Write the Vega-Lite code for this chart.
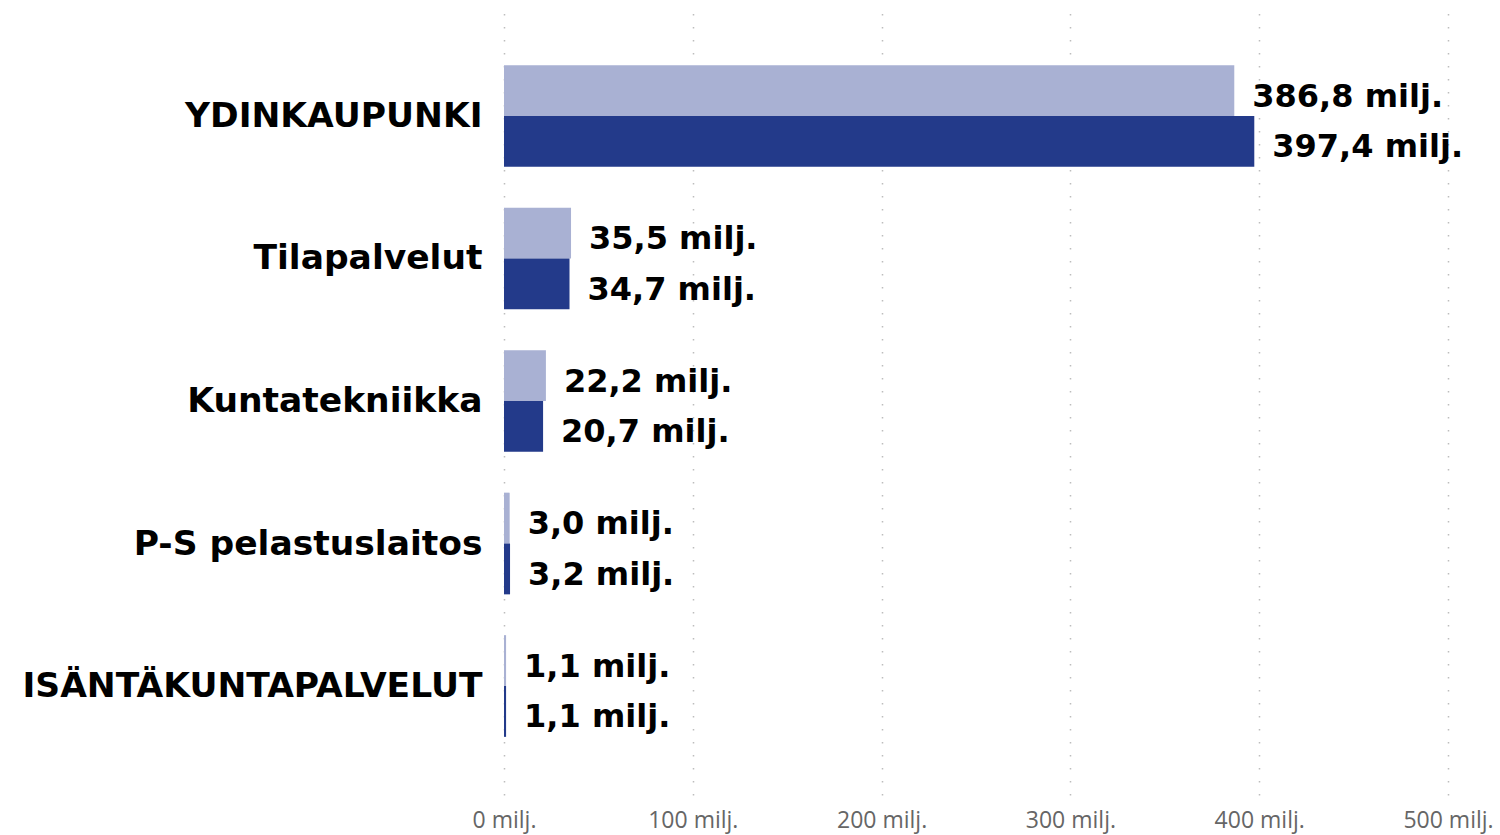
{
  "$schema": "https://vega.github.io/schema/vega-lite/v6.json",
  "autosize": {"type": "none"},
  "padding": {"left": 504, "top": 7, "right": 52, "bottom": 40},
  "width": 944,
  "height": 788,
  "background": "white",
  "config": {
    "view": {"stroke": null},
    "locale": {
      "number": {"decimal": ",", "thousands": " ", "grouping": [3], "currency": ["", " milj."]}
    }
  },
  "data": {
    "values": [
      {"kategoria": "YDINKAUPUNKI", "sarja": "2022", "arvo": 386.8},
      {"kategoria": "YDINKAUPUNKI", "sarja": "2023", "arvo": 397.4},
      {"kategoria": "Tilapalvelut", "sarja": "2022", "arvo": 35.5},
      {"kategoria": "Tilapalvelut", "sarja": "2023", "arvo": 34.7},
      {"kategoria": "Kuntatekniikka", "sarja": "2022", "arvo": 22.2},
      {"kategoria": "Kuntatekniikka", "sarja": "2023", "arvo": 20.7},
      {"kategoria": "P-S pelastuslaitos", "sarja": "2022", "arvo": 3.0},
      {"kategoria": "P-S pelastuslaitos", "sarja": "2023", "arvo": 3.2},
      {"kategoria": "ISÄNTÄKUNTAPALVELUT", "sarja": "2022", "arvo": 1.1},
      {"kategoria": "ISÄNTÄKUNTAPALVELUT", "sarja": "2023", "arvo": 1.1}
    ]
  },
  "encoding": {
    "y": {
      "field": "kategoria",
      "type": "nominal",
      "sort": ["YDINKAUPUNKI", "Tilapalvelut", "Kuntatekniikka", "P-S pelastuslaitos", "ISÄNTÄKUNTAPALVELUT"],
      "scale": {"paddingInner": 0.2863, "paddingOuter": 0.408},
      "axis": {
        "title": null,
        "domain": false,
        "ticks": false,
        "labelFont": "DejaVu Sans",
        "labelFontWeight": "bold",
        "labelFontSize": 34.5,
        "labelColor": "#000000",
        "labelPadding": 22,
        "labelOffset": 1,
        "labelLimit": 600
      }
    },
    "yOffset": {"field": "sarja", "type": "nominal", "sort": ["2022", "2023"]},
    "x": {
      "field": "arvo",
      "type": "quantitative",
      "scale": {"domain": [0, 500], "nice": false},
      "axis": {
        "title": null,
        "domain": false,
        "ticks": false,
        "values": [0, 100, 200, 300, 400, 500],
        "format": "$.0f",
        "labelFont": "Open Sans",
        "labelFontSize": 23,
        "labelColor": "#666666",
        "labelPadding": 14,
        "labelFlush": false,
        "grid": true,
        "gridColor": "#bdbdbd",
        "gridDash": [1.5, 11.5],
        "gridWidth": 1.5
      }
    }
  },
  "layer": [
    {
      "mark": {"type": "bar"},
      "encoding": {
        "color": {
          "field": "sarja",
          "type": "nominal",
          "scale": {"domain": ["2022", "2023"], "range": ["#A9B1D3", "#233A8A"]},
          "legend": null
        }
      }
    },
    {
      "mark": {
        "type": "text",
        "align": "left",
        "baseline": "middle",
        "dx": 18,
        "dy": 6,
        "font": "DejaVu Sans",
        "fontWeight": "bold",
        "fontSize": 32,
        "color": "#000000"
      },
      "encoding": {
        "text": {"field": "arvo", "type": "quantitative", "format": "$.1f"}
      }
    }
  ]
}
